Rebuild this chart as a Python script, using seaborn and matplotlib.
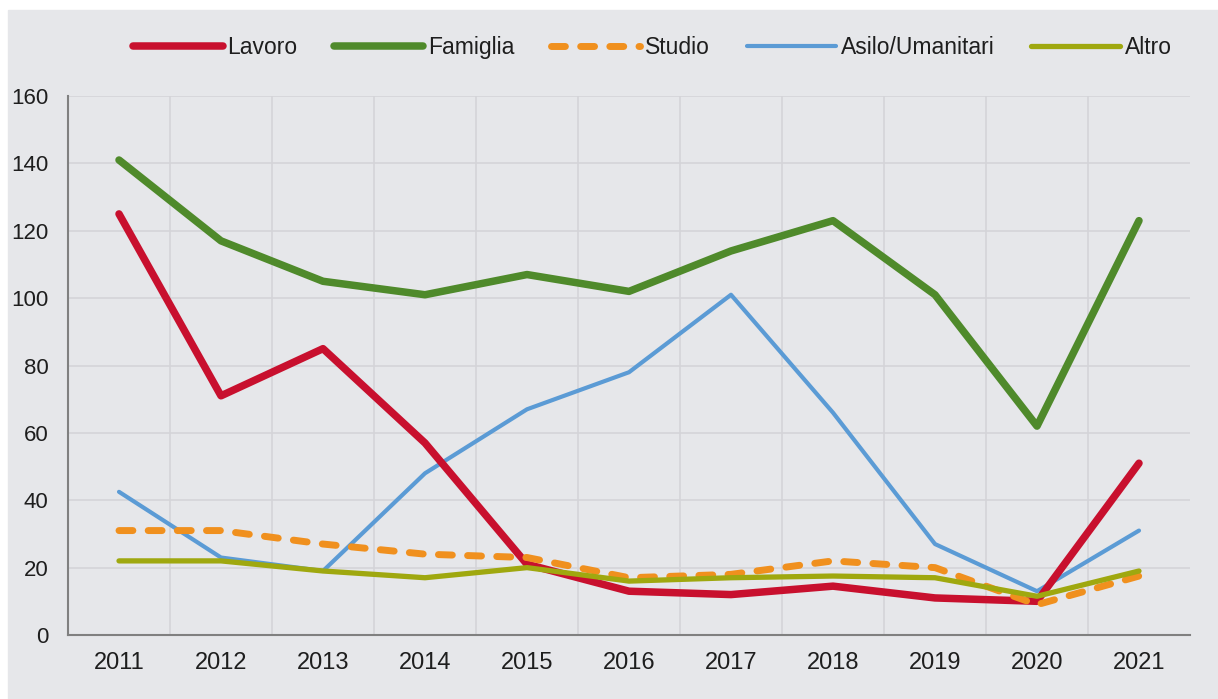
import pandas as pd
import numpy as np
import matplotlib.pyplot as plt
import matplotlib.patches as mpatches
from matplotlib.ticker import MultipleLocator, FixedLocator
import seaborn as sns

# Dati (migliaia di permessi)
anni = [2011, 2012, 2013, 2014, 2015, 2016, 2017, 2018, 2019, 2020, 2021]
lavoro = [125, 71, 85, 57, 21, 13, 12, 14.5, 11, 10, 51]
famiglia = [141, 117, 105, 101, 107, 102, 114, 123, 101, 62, 123]
studio = [31, 31, 27, 24, 23, 17, 18, 22, 20, 9, 17.5]
asilo = [42.5, 23, 19, 48, 67, 78, 101, 66, 27, 13, 31]
altro = [22, 22, 19, 17, 20, 16, 17, 17.5, 17, 11.5, 19]

serie = ['Lavoro', 'Famiglia', 'Studio', 'Asilo/Umanitari', 'Altro']
colori = ['#c8102e', '#4f8a2b', '#f0901e', '#5b9bd5', '#9fa80f']

df = pd.DataFrame({'anno': anni, 'Lavoro': lavoro, 'Famiglia': famiglia,
                   'Studio': studio, 'Asilo/Umanitari': asilo, 'Altro': altro})
df = df.melt(id_vars='anno', var_name='motivo', value_name='valore')

sns.set_style('whitegrid')
plt.rcParams['font.family'] = ['Liberation Sans', 'DejaVu Sans']
plt.rcParams['text.color'] = '#1e1e1e'
plt.rcParams['xtick.color'] = '#1e1e1e'
plt.rcParams['ytick.color'] = '#1e1e1e'

fig = plt.figure(figsize=(12.18, 6.99), dpi=100)
fig.patches.append(mpatches.Rectangle((8 / 1218, 0), 1, 1 - 10 / 699,
                                      transform=fig.transFigure,
                                      color='#e6e7ea', zorder=-10))
ax = fig.add_axes([68 / 1218, 1 - 635 / 699, (1190 - 68) / 1218, (635 - 96) / 699])
ax.set_facecolor('#e6e7ea')

sns.lineplot(data=df, x='anno', y='valore', hue='motivo', style='motivo',
             hue_order=serie, style_order=serie, palette=colori,
             dashes={'Lavoro': '', 'Famiglia': '', 'Studio': (2.0, 2.2),
                     'Asilo/Umanitari': '', 'Altro': ''},
             ax=ax, legend=True)

larghezze = [5.4, 5.4, 5.0, 3.0, 3.8]
for line, lw in zip(ax.get_lines(), larghezze):
    line.set_linewidth(lw)
    line.set_solid_capstyle('round')
    line.set_dash_capstyle('round')
ax.get_lines()[3].set_zorder(1.5)

ax.set_xlim(2010.5, 2021.5)
ax.set_ylim(0, 160)
ax.yaxis.set_major_locator(MultipleLocator(20))
ax.xaxis.set_major_locator(FixedLocator(anni))
ax.xaxis.set_minor_locator(FixedLocator([a + 0.5 for a in anni[:-1]]))
ax.grid(False)
ax.grid(True, which='minor', axis='x', color='#d4d4d8', linewidth=1.2)
ax.grid(True, which='major', axis='y', color='#d4d4d8', linewidth=1.2)
ax.set_axisbelow(True)

for s in ['top', 'right']:
    ax.spines[s].set_visible(False)
for s in ['left', 'bottom']:
    ax.spines[s].set_color('#808080')
    ax.spines[s].set_linewidth(1.5)

ax.tick_params(axis='y', which='major', length=5, color='#808080', labelsize=16, pad=9)
ax.tick_params(axis='x', which='both', length=0, labelsize=17, pad=12)
ax.tick_params(axis='x', which='major', labelcolor='#1e1e1e')
ax.set_xlabel('')
ax.set_ylabel('')

handles, labels = ax.get_legend_handles_labels()
for h, lw in zip(handles, larghezze):
    h.set_linewidth(lw)
    h.set_solid_capstyle('round')
    h.set_dash_capstyle('round')
ax.legend(handles, labels, ncol=5, frameon=False, loc='center',
          bbox_to_anchor=(0.521, 1.09), fontsize=16.5, handlelength=3.9,
          handletextpad=0.2, columnspacing=1.6)

fig.savefig('out.png', dpi=100)
